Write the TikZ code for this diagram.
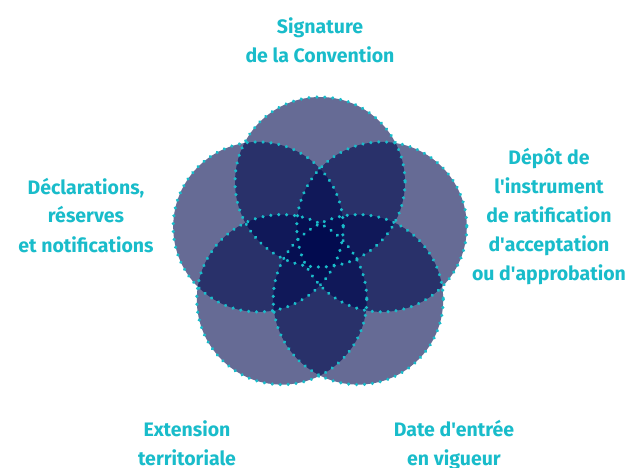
\documentclass[tikz,border=0pt]{standalone}
\usepackage{fontspec}
\usetikzlibrary{decorations.markings}
\setmainfont{Fira Sans}
\newcommand{\ap}{\textquotesingle}
\begin{document}
\begin{tikzpicture}[x=1pt,y=-1pt,
  petal/.style={fill=navy,fill opacity=0.6},
  rim/.style={decoration={markings,
      mark=between positions 0 and 0.999 step 7.95pt with {\fill[aqua] (0,0) circle[radius=1.75pt];}},
    decorate},
  caption/.style={text=aqua,align=center,inner sep=0pt,anchor=base,
    font=\fontsize{19.5}{29}\selectfont\bfseries}]
  \definecolor{navy}{RGB}{0,9,78}
  \definecolor{aqua}{RGB}{25,188,202}
  \useasboundingbox (0,0) rectangle (630,468);
  % centres of the five circles, on a pentagon around (320,247)
  \coordinate (ct) at (320,182);
  \coordinate (cr) at (381.8,226.9);
  \coordinate (cl) at (258.2,226.9);
  \coordinate (cbr) at (358.2,299.6);
  \coordinate (cbl) at (281.8,299.6);
  \foreach \c in {ct,cr,cbr,cbl,cl}
    \fill[petal] (\c) circle[radius=85];
  \foreach \c in {ct,cr,cbr,cbl,cl}
    \path[rim] (\c) circle[radius=85];
  % labels, placed by the baseline of their last line
  \node[caption] (sig) at (320,63) {Signature\\de la Convention};
  \node[caption] (dep) at (549,280) {Dépôt de\\l\ap instrument\\de ratification\\d\ap acceptation\\ou d\ap approbation};
  \node[caption] (dec) at (86,252) {Déclarations,\\réserves\\et notifications};
  \node[caption] (ext) at (187,465) {Extension\\territoriale};
  \node[caption] (dat) at (454,465) {Date d\ap entrée\\en vigueur};
\end{tikzpicture}
\end{document}
